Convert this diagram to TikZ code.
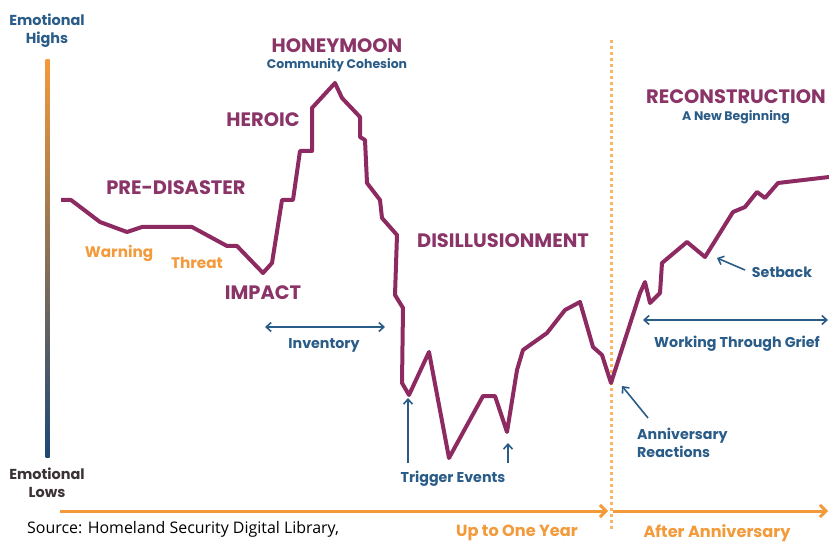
\documentclass[tikz,border=0pt]{standalone}
\usepackage{fontspec}
\setmainfont{Poppins}
\newfontfamily\srcfont{Open Sans}
\usetikzlibrary{arrows.meta}
\definecolor{curvec}{HTML}{8E2A62}
\definecolor{labc}{HTML}{8A3468}
\definecolor{bluec}{HTML}{2A5C88}
\definecolor{navyc}{HTML}{1D4775}
\definecolor{midc}{HTML}{7A6070}
\definecolor{orangec}{HTML}{F39A3B}
\definecolor{dashc}{HTML}{F8B565}
\definecolor{lowc}{HTML}{3B3236}
\begin{document}
\begin{tikzpicture}[x=1bp,y=-1bp,
  phase/.style={text=labc,font=\fontsize{19.5}{22}\selectfont\bfseries,inner sep=0pt},
  sub/.style={text=bluec,font=\fontsize{12.5}{14}\selectfont\bfseries,inner sep=0pt},
  note/.style={text=bluec,font=\fontsize{14.3}{18}\selectfont\bfseries,inner sep=0pt},
  warn/.style={text=orangec,font=\fontsize{15.3}{17}\selectfont\bfseries,inner sep=0pt},
  axlab/.style={font=\fontsize{14.5}{18}\selectfont\bfseries,inner sep=0pt,align=center},
  timelab/.style={text=orangec,font=\fontsize{16.2}{18}\selectfont\bfseries,inner sep=0pt},
  bluearrow/.style={draw=bluec,line width=1.6bp,-{Straight Barb[length=5bp,width=9bp]}},
  bluedouble/.style={draw=bluec,line width=1.6bp,{Straight Barb[length=5bp,width=9bp]}-{Straight Barb[length=5bp,width=9bp]}},
  timearrow/.style={draw=orangec,line width=3bp,-{Straight Barb[length=6bp,width=12bp]}},
  curveline/.style={draw=curvec,line width=4bp,line join=round}
]
\useasboundingbox[fill=white] (0,0) rectangle (829,544);

% vertical gradient axis
\shade[top color=orangec, middle color=midc, bottom color=navyc] (45.5,60) rectangle (49.5,457);
\node[axlab,text=bluec] (highs) at (47,31) {Emotional\\Highs};
\node[axlab,text=lowc] (lows) at (47,483) {Emotional\\Lows};

% dotted anniversary line
\coordinate (dtop) at (611,40);
\coordinate (dbot) at (611,530);
\draw[dashc,line width=3bp,dash pattern=on 3bp off 3bp] (dtop) -- (dbot);

% time axis
\coordinate (t0) at (60,511);
\coordinate (t1) at (608,511);
\coordinate (t2) at (613,511);
\coordinate (t3) at (828,511);
\draw[timearrow] (t0) -- (t1);
\draw[timearrow] (t2) -- (t3);
\node[timelab] (year) at (517,533) {Up to One Year};
\node[timelab] (after) at (717,533) {After Anniversary};

% curve
\draw[curveline] (61,200) -- (71,200) -- (100,222) -- (127,232) -- (142,227) -- (192,227)
 -- (227,246) -- (237,246) -- (263,273) -- (272,263) -- (282,200) -- (293,200) -- (300,151)
 -- (312,151) -- (312,108) -- (335,83) -- (342,98) -- (360,117) -- (360,137) -- (365,140)
 -- (367,183) -- (380,200) -- (382,218) -- (397,235) -- (395,295) -- (403,308) -- (402,383)
 -- (409,395) -- (429,352) -- (449,458) -- (483,396) -- (495,396) -- (507,432) -- (517,370)
 -- (523,350) -- (547,333) -- (565,310) -- (580,302) -- (593,347) -- (602,355) -- (611,383)
 -- (640,293) -- (645,282) -- (650,303) -- (660,293) -- (662,263) -- (687,242) -- (705,257)
 -- (733,212) -- (745,207) -- (757,192) -- (765,198) -- (778,183) -- (829,177);

% phase labels
\node[phase] (pre) at (176,188) {PRE-DISASTER};
\node[warn] (warning) at (119,253) {Warning};
\node[warn] (threat) at (197,263) {Threat};
\node[phase] (impact) at (263,293) {IMPACT};
\node[phase] (heroic) at (263,120) {HEROIC};
\node[phase] (honey) at (337,46) {HONEYMOON};
\node[sub] (cohesion) at (337,65) {Community Cohesion};
\node[phase] (disill) at (503,241) {DISILLUSIONMENT};
\node[phase] (recon) at (736,97) {RECONSTRUCTION};
\node[sub] (newbeg) at (736,117) {A New Beginning};

% inventory
\coordinate (inva) at (265,327);
\coordinate (invb) at (385,327);
\draw[bluedouble] (inva) -- (invb);
\node[note] (inventory) at (324,345) {Inventory};

% trigger events
\coordinate (tr1a) at (408,463);
\coordinate (tr1b) at (408,398);
\coordinate (tr2a) at (508,463);
\coordinate (tr2b) at (508,443);
\draw[bluearrow] (tr1a) -- (tr1b);
\draw[bluearrow] (tr2a) -- (tr2b);
\node[note] (trigger) at (453,479) {Trigger Events};

% anniversary reactions
\coordinate (ana) at (648,418);
\coordinate (anb) at (622,386);
\draw[bluearrow] (ana) -- (anb);
\node[note,anchor=west,align=left] (anniv) at (637,443) {Anniversary\\Reactions};

% setback
\coordinate (sba) at (745,270);
\coordinate (sbb) at (717,258);
\draw[bluearrow] (sba) -- (sbb);
\node[note] (setback) at (782,272) {Setback};

% working through grief
\coordinate (wga) at (643,320);
\coordinate (wgb) at (828,320);
\draw[bluedouble] (wga) -- (wgb);
\node[note] (grief) at (737,344) {Working Through Grief};

% source
\node[anchor=west,inner sep=0pt,font=\srcfont\fontsize{16}{18}\selectfont] (source) at (27,529) {Source: Homeland Security Digital Library,};
\end{tikzpicture}
\end{document}
